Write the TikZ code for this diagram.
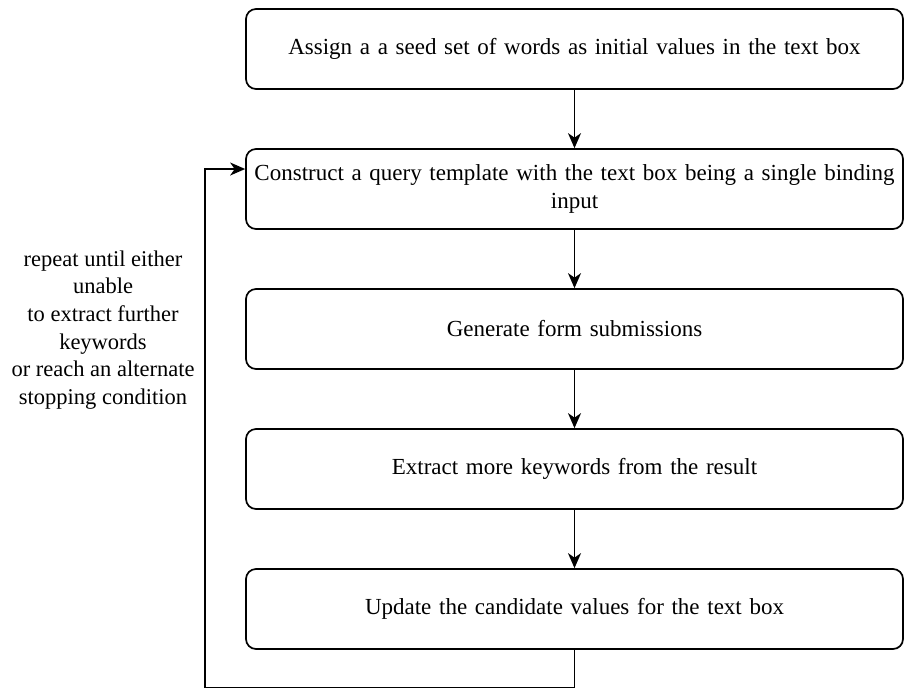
\documentclass[tikz,border=0pt]{standalone}
\usepackage{fontspec}
\setmainfont{Liberation Serif}
\usetikzlibrary{arrows.meta}
\begin{document}
\begin{tikzpicture}[x=1pt,y=-1pt,
  box/.style={draw, line width=1.7pt, rounded corners=10pt, minimum width=657pt, minimum height=80pt,
    inner sep=0pt, align=center, text width=655pt, font=\fontsize{23}{27.5}\selectfont},
  arr/.style={-{Stealth[length=15pt,width=13pt,inset=4.5pt]}, line width=1.7pt},
  note/.style={align=center, inner sep=0pt, font=\fontsize{22.5}{27.6}\selectfont}]
\useasboundingbox (0,0) rectangle (904,689);
\node[box] (b1) at (574.5,49) {Assign a a seed set of words as initial values in the text box};
\node[box] (b2) at (574.5,189) {Construct a query template with the text box being a single binding\\input};
\node[box] (b3) at (574.5,329) {Generate form submissions};
\node[box] (b4) at (574.5,469) {Extract more keywords from the result};
\node[box] (b5) at (574.5,609) {Update the candidate values for the text box};
\node[note] (n) at (103,330) {repeat until either\\unable\\to extract further\\keywords\\or reach an alternate\\stopping condition};
\draw[arr] (b1) -- (b2);
\draw[arr] (b2) -- (b3);
\draw[arr] (b3) -- (b4);
\draw[arr] (b4) -- (b5);
\coordinate (lb) at (205,687.5);
\coordinate (lt) at (205,169);
\draw[arr] (b5.south) |- (lb) -- (lt) -- (lt -| b2.west);
\end{tikzpicture}
\end{document}
